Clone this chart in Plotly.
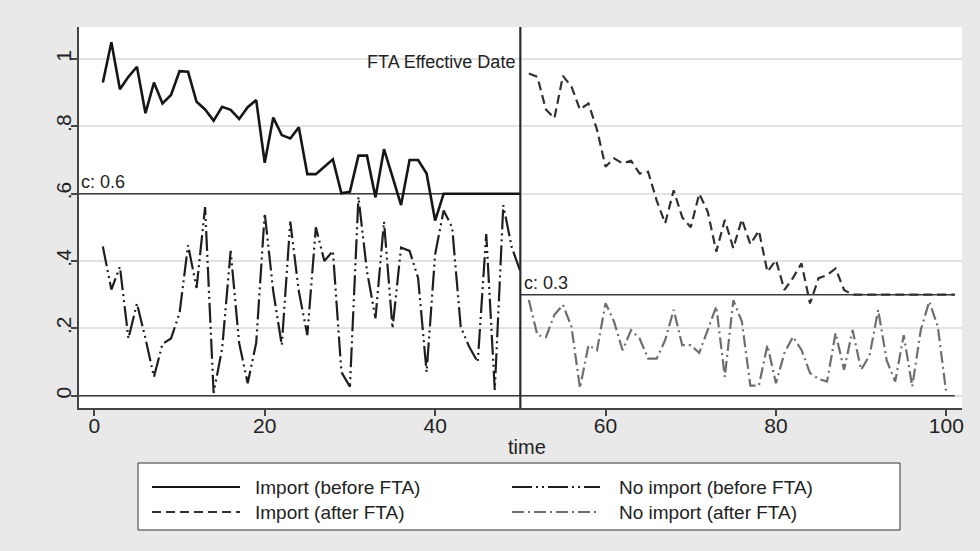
import plotly.graph_objects as go

# ---------------- data ----------------
t_before = list(range(1, 51))
t_after = list(range(51, 102))
t_after_noimport = list(range(51, 101))

import_before = [0.93, 1.05, 0.91, 0.947, 0.977, 0.839, 0.93, 0.868, 0.893, 0.964,
                 0.962, 0.873, 0.85, 0.817, 0.858, 0.849, 0.822, 0.857, 0.878, 0.692,
                 0.826, 0.774, 0.764, 0.797, 0.658, 0.658, 0.68, 0.702, 0.601, 0.606,
                 0.713, 0.713, 0.589, 0.732, 0.65, 0.566, 0.70, 0.70, 0.66, 0.52,
                 0.60, 0.60, 0.60, 0.60, 0.60, 0.60, 0.60, 0.60, 0.60, 0.60]

noimport_before = [0.443, 0.315, 0.383, 0.17, 0.274, 0.17, 0.056, 0.154, 0.17, 0.245,
                   0.447, 0.32, 0.56, 0.008, 0.14, 0.43, 0.156, 0.037, 0.157, 0.542,
                   0.31, 0.15, 0.517, 0.31, 0.18, 0.50, 0.40, 0.43, 0.07, 0.027,
                   0.59, 0.37, 0.23, 0.517, 0.20, 0.44, 0.43, 0.35, 0.07, 0.42,
                   0.55, 0.50, 0.205, 0.145, 0.10, 0.48, 0.017, 0.566, 0.44, 0.37]

import_after = [0.957, 0.947, 0.85, 0.824, 0.95, 0.918, 0.85, 0.868, 0.79, 0.68,
                0.705, 0.69, 0.698, 0.66, 0.665, 0.58, 0.512, 0.61, 0.53, 0.50,
                0.60, 0.546, 0.428, 0.522, 0.438, 0.524, 0.45, 0.49, 0.368, 0.403,
                0.314, 0.35, 0.393, 0.274, 0.349, 0.358, 0.378, 0.314, 0.30, 0.30,
                0.30, 0.30, 0.30, 0.30, 0.30, 0.30, 0.30, 0.30, 0.30, 0.30, 0.30]

noimport_after = [0.284, 0.18, 0.174, 0.24, 0.27, 0.205, 0.023, 0.15, 0.135, 0.275,
                  0.22, 0.135, 0.195, 0.17, 0.11, 0.11, 0.165, 0.255, 0.15, 0.15,
                  0.127, 0.195, 0.265, 0.056, 0.284, 0.22, 0.03, 0.03, 0.15, 0.037,
                  0.127, 0.175, 0.136, 0.067, 0.05, 0.042, 0.186, 0.077, 0.195, 0.077,
                  0.12, 0.255, 0.105, 0.042, 0.18, 0.027, 0.195, 0.28, 0.205, 0.007]

series_names = ["Import (before FTA)", "No import (before FTA)",
                "Import (after FTA)", "No import (after FTA)"]

fta_date = 50
c_before = 0.6
c_after = 0.3
floor_level = 0.0
series_end = 101

x_range = [-1.8, 101.84]
y_range = [-0.0365, 1.095]
x_ticks = [0, 20, 40, 60, 80, 100]
y_ticks = [0, 0.2, 0.4, 0.6, 0.8, 1.0]
y_tick_labels = ["0", ".2", ".4", ".6", ".8", "1"]

FONT = "Liberation Sans, Arial, sans-serif"

W, H = 980, 551
M_L, M_R, M_T, M_B = 79, 18, 27, 143
PW, PH = W - M_L - M_R, H - M_T - M_B

def px(xp):
    return (xp - M_L) / PW

def py(yp):
    return (H - M_B - yp) / PH

styles = [
    dict(color="#161616", width=2.6, dash="solid"),
    dict(color="#1e1e1e", width=2.2, dash="20px,4px,2px,4px,2px,4px"),
    dict(color="#303030", width=2.2, dash="9px,5px"),
    dict(color="#6e6e6e", width=2.2, dash="12px,4px,2px,4px"),
]

fig = go.Figure()

# reference lines (constants)
ref_line = dict(color="#3c3c3c", width=1.6)
fig.add_trace(go.Scatter(x=[x_range[0], fta_date], y=[c_before, c_before], mode="lines",
                         line=ref_line, showlegend=False, hoverinfo="skip"))
fig.add_trace(go.Scatter(x=[fta_date, series_end], y=[c_after, c_after], mode="lines",
                         line=ref_line, showlegend=False, hoverinfo="skip"))
fig.add_trace(go.Scatter(x=[x_range[0], series_end], y=[floor_level, floor_level], mode="lines",
                         line=ref_line, showlegend=False, hoverinfo="skip"))

data = [(t_before, import_before), (t_before, noimport_before),
        (t_after, import_after), (t_after_noimport, noimport_after)]
for (xs, ys), name, st in zip(data, series_names, styles):
    fig.add_trace(go.Scatter(x=xs, y=ys, mode="lines", name=name, line=st, showlegend=False))

# FTA vertical line
fig.add_shape(type="line", xref="x", yref="paper", x0=fta_date, x1=fta_date, y0=0, y1=1,
              line=dict(color="#2a2a2a", width=2.2))

fig.add_annotation(x=fta_date, y=0.99, xref="x", yref="y", text="FTA Effective Date",
                   showarrow=False, xanchor="right", yanchor="middle", xshift=-3,
                   font=dict(size=18, color="#222"))
fig.add_annotation(x=0, y=c_before, xref="paper", yref="y", text="c: 0.6",
                   showarrow=False, xanchor="left", yanchor="bottom", xshift=0,
                   font=dict(size=18, color="#222"))
fig.add_annotation(x=fta_date, y=c_after, xref="x", yref="y", text="c: 0.3",
                   showarrow=False, xanchor="left", yanchor="bottom", xshift=2,
                   font=dict(size=18, color="#222"))

# x-axis title
fig.add_annotation(xref="paper", yref="paper", x=px(527), y=py(447), text="time",
                   showarrow=False, xanchor="center", yanchor="middle",
                   font=dict(size=20, color="#222"))

# ---- legend box (drawn in paper coordinates) ----
fig.add_shape(type="rect", xref="paper", yref="paper",
              x0=px(138), x1=px(900), y0=py(530), y1=py(463),
              line=dict(color="#333", width=1), fillcolor="white", layer="below")
sample_x = [(152, 240), (512, 600)]
text_x = [253, 617]
row_y = [487, 512]
for i, (name, st) in enumerate(zip(series_names, styles)):
    col, row = i % 2, i // 2
    fig.add_shape(type="line", xref="paper", yref="paper",
                  x0=px(sample_x[col][0]), x1=px(sample_x[col][1]),
                  y0=py(row_y[row]), y1=py(row_y[row]),
                  line=dict(color=st["color"], width=2, dash=st["dash"]))
    fig.add_annotation(xref="paper", yref="paper", x=px(text_x[col]), y=py(row_y[row]),
                       text=name, showarrow=False, xanchor="left", yanchor="middle",
                       font=dict(size=19, color="#222"))

fig.update_layout(
    width=W, height=H,
    margin=dict(l=M_L, r=M_R, t=M_T, b=M_B, autoexpand=False),
    paper_bgcolor="#e9e9e9", plot_bgcolor="white",
    font=dict(family=FONT, color="#222", size=19),
    showlegend=False,
)
fig.update_xaxes(range=x_range, tickvals=x_ticks, ticks="outside", ticklen=6, tickwidth=1.5,
                 tickcolor="#444", showline=True, linecolor="#444", linewidth=1.5,
                 showgrid=False, zeroline=False, tickfont=dict(size=21),
                 ticklabelstandoff=-8)
fig.update_yaxes(range=y_range, tickvals=y_ticks, ticktext=y_tick_labels, tickangle=-90,
                 ticks="outside", ticklen=6, tickwidth=1.5, tickcolor="#444",
                 showline=True, linecolor="#444", linewidth=1.5,
                 showgrid=True, gridcolor="#e2e2e2", gridwidth=1.5, zeroline=False,
                 tickfont=dict(size=21), ticklabelstandoff=-8)

fig.write_html("out.html", config={"displayModeBar": False},
               post_script="document.body.style.margin='0px';")
